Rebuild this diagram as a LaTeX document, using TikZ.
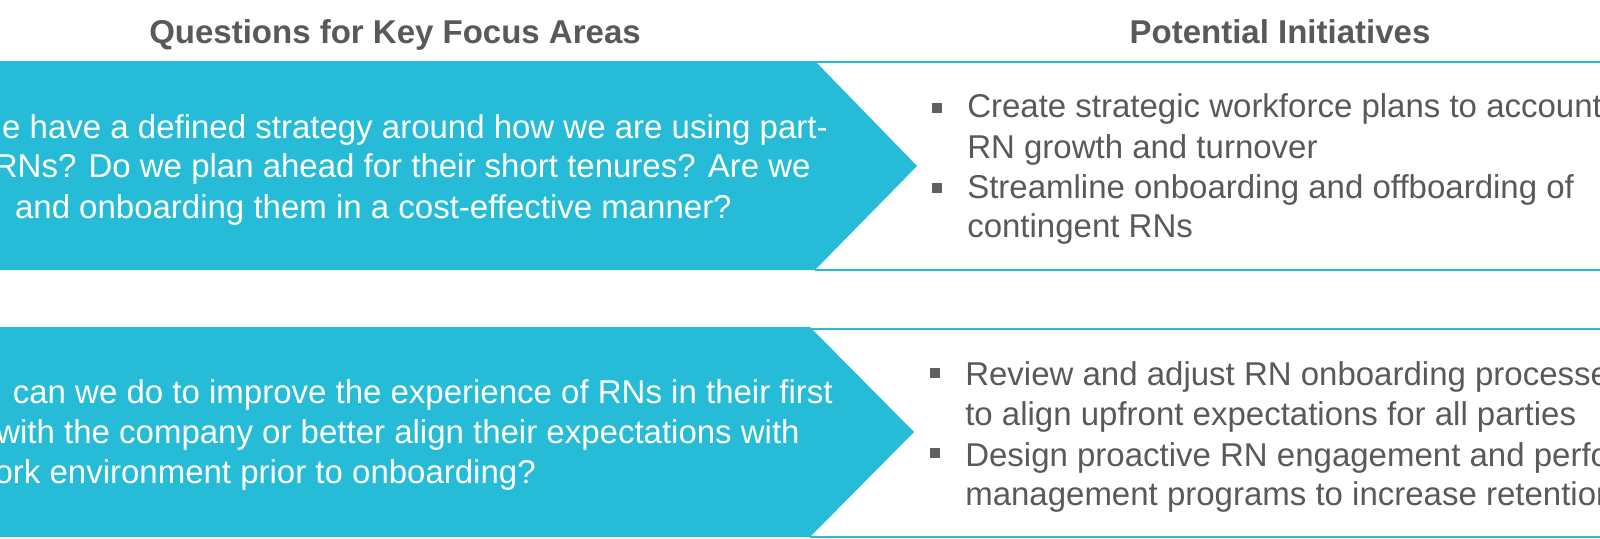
\documentclass[tikz,border=0pt]{standalone}
\usepackage{fontspec}
\setmainfont{Liberation Sans}
\usepackage{tikz}
\definecolor{focuscyan}{HTML}{26BCD7}
\definecolor{textgray}{HTML}{58595B}
\definecolor{bulletgray}{HTML}{5F6064}

\begin{document}
\begin{tikzpicture}[x=0.75pt,y=-0.75pt,
    heading/.style={text=textgray,font=\fontsize{24.75}{30}\selectfont\bfseries,inner sep=0pt,anchor=base},
    question/.style={text=white,font=\fontsize{24.75}{30}\selectfont,inner sep=0pt,anchor=base east},
    initiative/.style={text=textgray,font=\fontsize{24.75}{30}\selectfont,inner sep=0pt,anchor=base west},
    bulletbox/.style={rectangle,fill=bulletgray,inner sep=0pt,minimum size=7.5pt},
    chevron/.style={fill=focuscyan},
    panel/.style={draw=focuscyan,line width=1.5pt}
  ]
    \useasboundingbox (0,0) rectangle (1600,539);
    \clip (0,0) rectangle (1600,539);

    % headings
    \node[heading] (qhead) at (395,43) {Questions for Key Focus Areas};
    \node[heading] (ihead) at (1280,43) {Potential Initiatives};

    % panel lines behind the chevrons
    \draw[panel] (815,62) -- (1620,62) (815,269.5) -- (1620,269.5);
    \draw[panel] (810,328.5) -- (1620,328.5) (810,536.5) -- (1620,536.5);
    \fill[chevron] (-10,61) -- (815,61) -- (917,166) -- (815,270) -- (-10,270) -- cycle;
    \fill[chevron] (-10,327) -- (810,327) -- (914,432) -- (810,537) -- (-10,537) -- cycle;

    % questions
    \foreach \x/\y/\t [count=\i] in {%
      828/138/{e have a defined strategy around how we are using part-},
      811/177/{RNs? Do we plan ahead for their short tenures? Are we},
      732/218/{and onboarding them in a cost-effective manner?}}
      {\node[question] (qa-\i) at (\x,\y) {\t};}
    \foreach \x/\y/\t [count=\i] in {%
      833/403/{can we do to improve the experience of RNs in their first},
      800/443/{with the company or better align their expectations with},
      536/483/{ork environment prior to onboarding?}}
      {\node[question] (qb-\i) at (\x,\y) {\t};}

    % initiatives
    \foreach \y/\t [count=\i] in {%
      117/{Create strategic workforce plans to account},
      158/{RN growth and turnover},
      198/{Streamline onboarding and offboarding of},
      237/{contingent RNs}}
      {\node[initiative] (ia-\i) at (967,\y) {\t};}
    \foreach \y/\t [count=\i] in {%
      385/{Review and adjust RN onboarding processes},
      425/{to align upfront expectations for all parties},
      466/{Design proactive RN engagement and performance},
      505/{management programs to increase retention}}
      {\node[initiative] (ib-\i) at (965,\y) {\t};}

    \foreach \x/\y [count=\i] in {937/108,937/187.5,935/372.5,935/452.5}
      {\node[bulletbox] (bullet-\i) at (\x,\y) {};}
\end{tikzpicture}
\end{document}
